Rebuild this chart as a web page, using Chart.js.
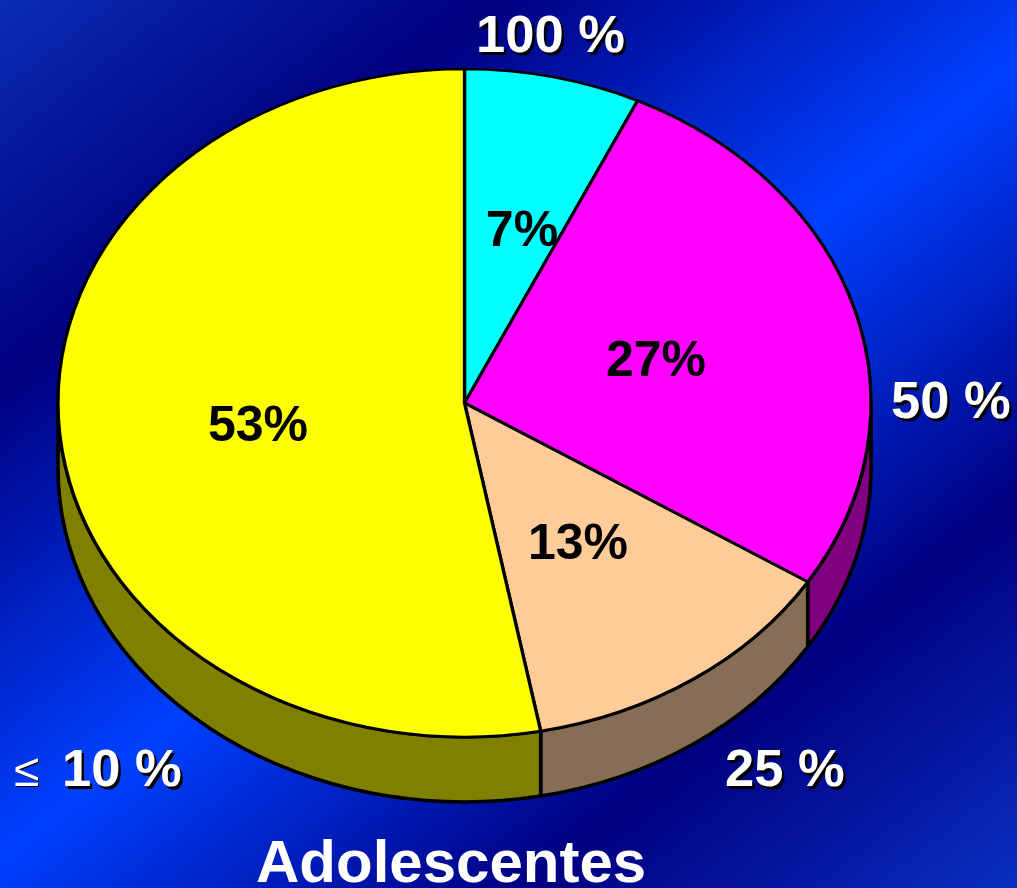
<!DOCTYPE html>
<html>
<head>
<meta charset="utf-8">
<script src="https://cdn.jsdelivr.net/npm/chart.js@4"></script>
<style>
html,body{margin:0;padding:0;width:1017px;height:888px;overflow:hidden}
body{background:linear-gradient(142deg,#0a2cb4 0%,#000080 23%,#0040ff 51%,#000080 77%,#0a2fc0 100%)}
canvas{display:block}
</style>
</head>
<body>
<canvas id="c" width="1017" height="888"></canvas>
<script>
const categories = ["100 %", "50 %", "25 %", "≤ 10 %"];
const shares = [7, 27, 13, 53];
const topColors = ["#00ffff", "#ff00ff", "#ffcc99", "#ffff00"];
const sideColors = ["#008080", "#800080", "#856e55", "#808000"];
const chartTitle = "Adolescentes";

const FONT = '"Liberation Sans", Arial, sans-serif';
const ELLIPSE = {cx: 464.5, cy: 403, rx: 406.5, ry: 334, depth: 65};

const tilt = {
  id: 'tilt',
  beforeDatasetsDraw(chart) {
    const ctx = chart.ctx;
    const arcs = chart.getDatasetMeta(0).data;
    const R = arcs[0].outerRadius;
    const sx = ELLIPSE.rx / R, sy = ELLIPSE.ry / R;
    // extruded rim: only the part of each slice on the lower half of the ellipse
    arcs.forEach((a, i) => {
      const a0 = Math.max(a.startAngle, 0), a1 = Math.min(a.endAngle, Math.PI);
      if (a1 <= a0) return;
      ctx.save();
      ctx.translate(ELLIPSE.cx, ELLIPSE.cy);
      ctx.scale(sx, sy);
      ctx.beginPath();
      ctx.arc(0, 0, R, a0, a1);
      ctx.arc(0, ELLIPSE.depth / sy, R, a1, a0, true);
      ctx.closePath();
      ctx.restore();
      ctx.fillStyle = sideColors[i];
      ctx.strokeStyle = '#000';
      ctx.lineWidth = 3.6;
      ctx.lineJoin = 'round';
      ctx.fill();
      ctx.stroke();
    });
    // squeeze the slices the library is about to draw
    ctx.save();
    ctx.translate(ELLIPSE.cx, ELLIPSE.cy);
    ctx.scale(sx, sy);
    ctx.translate(-arcs[0].x, -arcs[0].y);
  },
  afterDatasetsDraw(chart) {
    chart.ctx.restore();
  }
};

const sliceLabelPos = [[522, 246], [656, 376], [578, 559], [258, 441]];
const outerLabelPos = [[476, 52], [891, 418], [725, 786], [62, 786]];

const labels = {
  id: 'labels',
  afterDraw(chart) {
    const ctx = chart.ctx;
    ctx.save();
    ctx.textBaseline = 'alphabetic';
    ctx.fillStyle = '#000';
    ctx.textAlign = 'center';
    ctx.font = 'bold 50px ' + FONT;
    shares.forEach((v, i) => {
      ctx.fillText(v + '%', sliceLabelPos[i][0], sliceLabelPos[i][1]);
    });
    ctx.textAlign = 'left';
    const shadowText = (t, x, y, d) => {
      ctx.fillStyle = '#000';
      ctx.fillText(t, x + d, y + d);
      ctx.fillStyle = '#fff';
      ctx.fillText(t, x, y);
    };
    ctx.font = 'bold 52.5px ' + FONT;
    categories.forEach((t, i) => {
      shadowText(t.replace('≤ ', ''), outerLabelPos[i][0], outerLabelPos[i][1], 2.5);
    });
    ctx.font = '46px ' + FONT;
    shadowText('≤', 14, 786, 1);
    ctx.font = 'bold 60px ' + FONT;
    ctx.fillStyle = '#fff';
    ctx.fillText(chartTitle, 256, 882);
    ctx.restore();
  }
};

new Chart(document.getElementById('c'), {
  type: 'pie',
  data: {
    labels: categories,
    datasets: [{
      data: shares,
      backgroundColor: topColors,
      borderColor: '#000',
      borderWidth: 3.6,
      borderAlign: 'center',
      offset: 0
    }]
  },
  options: {
    responsive: false,
    animation: false,
    layout: {padding: 0},
    plugins: {legend: {display: false}, tooltip: {enabled: false}, title: {display: false}}
  },
  plugins: [tilt, labels]
});
</script>
</body>
</html>
